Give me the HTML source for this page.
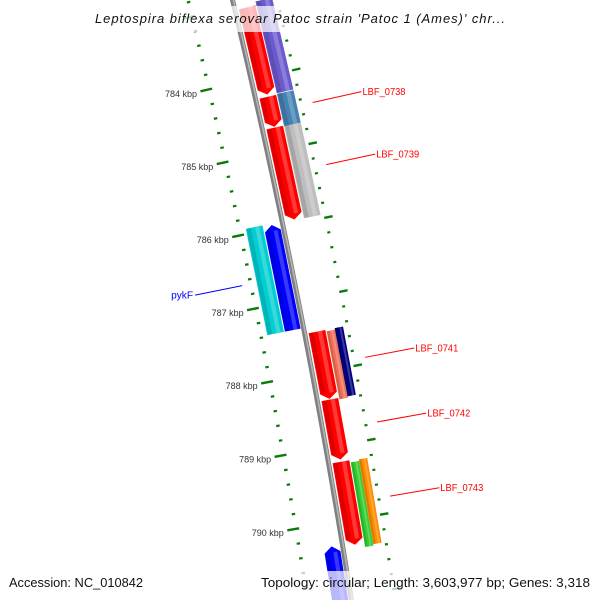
<!DOCTYPE html>
<html><head><meta charset="utf-8"><style>
html,body{margin:0;padding:0;background:#fff;width:600px;height:600px;overflow:hidden;}
svg{display:block;overflow:hidden;font-family:"Liberation Sans","DejaVu Sans",sans-serif;}
</style></head><body>
<svg id="map" width="600" height="600" viewBox="0 0 600 600" xmlns="http://www.w3.org/2000/svg">
<g id="ticks"></g>
<g id="backbone"></g>
<g id="features"></g>
<g id="labels"></g>
<rect x="88" y="6" width="424" height="26" fill="#fff" fill-opacity="0.72"/>
<text x="300" y="23" text-anchor="middle" font-size="13" font-style="italic" fill="#111" textLength="410" lengthAdjust="spacing">Leptospira biflexa serovar Patoc strain 'Patoc 1 (Ames)' chr...</text>
<rect x="5" y="571" width="143" height="29" fill="#fff" fill-opacity="0.72"/>
<text x="9" y="587" font-size="12.5" fill="#111" textLength="134" lengthAdjust="spacingAndGlyphs">Accession: NC_010842</text>
<rect x="257" y="571" width="339" height="29" fill="#fff" fill-opacity="0.72"/>
<text x="590" y="587" text-anchor="end" font-size="12.5" fill="#111" textLength="329" lengthAdjust="spacingAndGlyphs">Topology: circular; Length: 3,603,977 bp; Genes: 3,318</text>
</svg>
<script>
// gene track data (kbp)
const geneNames = ['LBF_0737', 'LBF_0738', 'LBF_0739', 'LBF_0741', 'LBF_0742', 'LBF_0743', 'pykF', 'LBF_next'];
const geneStart = [783.05, 784.27, 784.69, 787.46, 788.38, 789.22, 785.95, 790.31];
const geneEnd = [784.24, 784.68, 785.94, 788.37, 789.19, 790.34, 787.38, 791.5];
const geneStrand = [1, 1, 1, 1, 1, 1, -1, -1];
const geneLabeled = [0, 1, 1, 1, 1, 1, 1, 0];
// COG category track data (kbp)
const cogStart = [783.0, 784.26, 784.70, 787.48, 787.46, 789.25, 789.23, 785.93];
const cogEnd = [784.25, 784.70, 785.95, 788.40, 788.38, 790.39, 790.37, 787.38];
const cogStrand = [1, 1, 1, 1, 1, 1, 1, -1];
const cogPart = [0, 0, 0, 1, 2, 1, 2, 0];
const cogColor = ['#6a5acd', '#4682b4', '#bebebe', '#f27055', '#000080', '#32cd32', '#ff8c00', '#00ced1'];
// tick data
const tickStart = 782.6;
const tickEnd = 791.4;
const tickStep = 0.2;
const majorTicks = [784, 785, 786, 787, 788, 789, 790];
const majorTickLabels = ['784 kbp', '785 kbp', '786 kbp', '787 kbp', '788 kbp', '789 kbp', '790 kbp'];

const NS = 'http://www.w3.org/2000/svg';
const CX = -7334, CY = 1810, R0 = 7780;
const A784 = -12.85, DEG_PER_KBP = 0.553;
function ang(k) { return (A784 + (k - 784) * DEG_PER_KBP) * Math.PI / 180; }
function pt(r, k) { const a = ang(k); return [CX + r * Math.cos(a), CY + r * Math.sin(a)]; }
function mk(tag, attrs, parent) { const e = document.createElementNS(NS, tag); for (const key in attrs) e.setAttribute(key, attrs[key]); parent.appendChild(e); return e; }
function P(points) { return points.map(p => p[0].toFixed(2) + ',' + p[1].toFixed(2)).join(' '); }

// backbone
const bb = document.getElementById('backbone');
const bpts = [];
for (let k = 782.5; k <= 791.6; k += 0.1) bpts.push(pt(R0, k));
const bbOuter = mk('polyline', { points: P(bpts), fill: 'none', stroke: '#808080', 'stroke-width': 5 }, bb);


const bbInner = mk('polyline', { points: P(bpts.map((p, i) => pt(R0 + 0.8, 782.5 + i * 0.1))), fill: 'none', stroke: '#b4b4b4', 'stroke-width': 1.6 }, bb);



// ticks
const tg = document.getElementById('ticks');
const nT = Math.round((tickEnd - tickStart) / tickStep);
for (let i = 0; i <= nT; i++) {
  const k = tickStart + i * tickStep;
  const major = Math.abs(k - Math.round(k)) < 0.01;
  const inA = major ? pt(7728, k) : pt(7735, k), inB = major ? pt(7740, k) : pt(7738.5, k);
  const t1 = mk('line', { x1: inA[0], y1: inA[1], x2: inB[0], y2: inB[1], stroke: '#0a7a0a', 'stroke-width': major ? 2.4 : 2.2 }, tg);
  
  
  const oA = pt(7822, k), oB = major ? pt(7830.5, k) : pt(7825, k);
  const t2 = mk('line', { x1: oA[0], y1: oA[1], x2: oB[0], y2: oB[1], stroke: '#0a7a0a', 'stroke-width': major ? 2.4 : 2.2 }, tg);
  
  
}
majorTicks.forEach((k, i) => {
  const p = pt(7724.5, k);
  const t = mk('text', { x: p[0].toFixed(1), y: (p[1] + 5).toFixed(1), 'text-anchor': 'end', 'font-size': 9, fill: '#333' }, tg);
  
  
  t.textContent = majorTickLabels[i];
});

// features
const fg = document.getElementById('features');
const TIP = 0.08;
function drawFeature(r1, r2, k1, k2, dir, color, name) {
  let pts, body1 = k1, body2 = k2;
  const rm = (r1 + r2) / 2;
  if (dir === 1) {
    body2 = Math.max(k1, k2 - TIP);
    pts = [pt(r1, k1), pt(r1, body2), pt(rm, k2), pt(r2, body2), pt(r2, k1)];
  } else if (dir === -1) {
    body1 = Math.min(k2, k1 + TIP);
    pts = [pt(rm, k1), pt(r1, body1), pt(r1, k2), pt(r2, k2), pt(r2, body1)];
  } else {
    pts = [pt(r1, k1), pt(r1, k2), pt(r2, k2), pt(r2, k1)];
  }
  const g = mk('g', {}, fg);
  
  
  mk('polygon', { points: P(pts), fill: color }, g);
  const w = r2 - r1;
  const d1 = r1 + w * 0.05, d2 = r1 + w * 0.3;
  mk('polygon', { points: P([pt(d1, body1), pt(d1, body2), pt(d2, body2), pt(d2, body1)]), fill: '#000', 'fill-opacity': 0.13 }, g);
  const l1 = r1 + w * 0.55, l2 = r1 + w * 0.8;
  mk('polygon', { points: P([pt(l1, body1), pt(l1, body2), pt(l2, body2), pt(l2, body1)]), fill: '#fff', 'fill-opacity': 0.22 }, g);
}
geneNames.forEach((n, i) => {
  const fwd = geneStrand[i] === 1;
  const r1 = fwd ? R0 + 4 : R0 - 19, r2 = fwd ? R0 + 21 : R0 - 3;
  drawFeature(r1, r2, geneStart[i], geneEnd[i], geneStrand[i], fwd ? '#ff0000' : '#0000ff', 'gene-' + n.toLowerCase().replace('_', '-'));
});
cogStart.forEach((s, i) => {
  const fwd = cogStrand[i] === 1;
  let r1 = fwd ? R0 + 22 : R0 - 37, r2 = fwd ? R0 + 39 : R0 - 20;
  const mid = (r1 + r2) / 2;
  if (cogPart[i] === 1) r2 = mid; else if (cogPart[i] === 2) r1 = mid;
  drawFeature(r1, r2, s, cogEnd[i], 0, cogColor[i], 'cog-feature');
});

// labels
const lg = document.getElementById('labels');
geneNames.forEach((n, i) => {
  if (!geneLabeled[i]) return;
  const km = (geneStart[i] + geneEnd[i]) / 2;
  const fwd = geneStrand[i] === 1;
  const col = fwd ? '#ff0000' : '#0000ff';
  const a = fwd ? pt(R0 + 55, km) : pt(R0 - 52, km);
  const b = fwd ? pt(R0 + 105, km) : pt(R0 - 100, km);
  const ln = mk('line', { x1: a[0], y1: a[1], x2: b[0], y2: b[1], stroke: col, 'stroke-width': 1 }, lg);
  
  
  const t = mk('text', { x: (fwd ? b[0] + 1 : b[0] - 2).toFixed(1), y: (b[1] + 3.5).toFixed(1), 'text-anchor': fwd ? 'start' : 'end', 'font-size': 10.5, fill: col, textLength: fwd ? 43 : 22, lengthAdjust: 'spacingAndGlyphs' }, lg);
  
  
  t.textContent = n;
});
</script>
</body></html>
